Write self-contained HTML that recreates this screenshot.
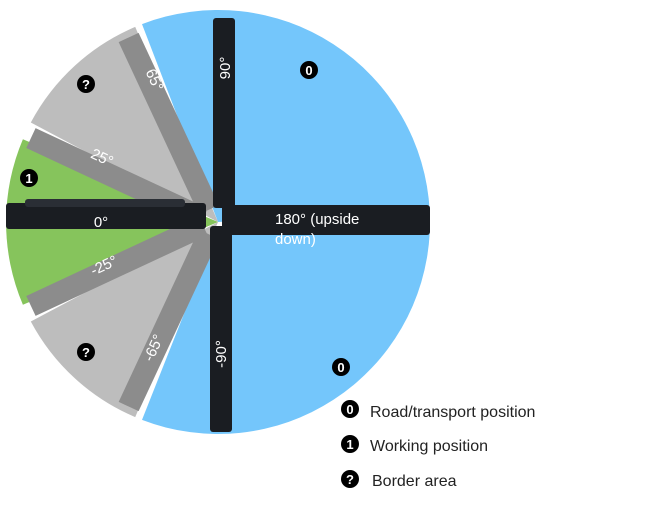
<!DOCTYPE html>
<html><head><meta charset="utf-8"><style>
html,body{margin:0;padding:0;background:#fff;}
svg{display:block;font-family:"Liberation Sans",sans-serif;}
</style></head><body>
<svg width="646" height="523" viewBox="0 0 646 523">
<path d="M218,222 L142,24.1 A212,212 0 0 1 429.7,210.9 Z" fill="#74c6fb"/>
<path d="M218,228 L429.7,233.1 A212,212 0 0 1 142,419.9 Z" fill="#74c6fb"/>
<path d="M218,222 L135.2,26.9 A212,212 0 0 0 30.8,122.5 Z" fill="#bdbdbd"/>
<path d="M218,222 L30.8,321.5 A212,212 0 0 0 135.2,417.1 Z" fill="#bdbdbd"/>
<path d="M218,222 L22.9,139.2 A212,212 0 0 0 22.9,304.8 Z" fill="#86c45c"/>
<g fill="#8c8c8c">
<rect x="-205" y="-14" width="190" height="22" transform="translate(218,222) rotate(-25)"/>
<rect x="-205" y="-14" width="190" height="22" transform="translate(218,222) rotate(-65)"/>
<rect x="-205" y="-8" width="190" height="22" transform="translate(218,222) rotate(25)"/>
<rect x="-205" y="-8" width="190" height="22" transform="translate(218,222) rotate(65)"/>
</g>
<rect x="6" y="203" width="200" height="26" rx="3" fill="#1a1d22"/>
<rect x="25" y="199" width="160" height="8" rx="3" fill="#2a2e35"/>
<rect x="213" y="18" width="22" height="190" rx="3" fill="#1a1d22"/>
<rect x="222" y="205" width="208" height="30" rx="3" fill="#1a1d22"/>
<rect x="210" y="226" width="22" height="206" rx="3" fill="#1a1d22"/>
<g fill="#fff" font-size="15">
<text x="101" y="227" text-anchor="middle">0°</text>
<text transform="translate(100,162) rotate(25)" text-anchor="middle">25°</text>
<text transform="translate(150,82) rotate(65)" text-anchor="middle">65°</text>
<text transform="translate(106,270) rotate(-25)" text-anchor="middle">-25°</text>
<text transform="translate(158,350) rotate(-65)" text-anchor="middle">-65°</text>
<text transform="translate(230,68) rotate(-90)" text-anchor="middle">90°</text>
<text transform="translate(226,354) rotate(-90)" text-anchor="middle">-90°</text>
<text x="275" y="224">180° (upside</text>
<text x="275" y="244">down)</text>
</g>
<g font-weight="bold" font-size="13" text-anchor="middle">
<circle cx="309" cy="70" r="9" fill="#000"/><text x="309" y="75" fill="#fff">0</text>
<circle cx="341" cy="367" r="9" fill="#000"/><text x="341" y="372" fill="#fff">0</text>
<circle cx="86" cy="84" r="9" fill="#000"/><text x="86" y="89" fill="#fff">?</text>
<circle cx="86" cy="352" r="9" fill="#000"/><text x="86" y="357" fill="#fff">?</text>
<circle cx="29" cy="178" r="9" fill="#000"/><text x="29" y="183" fill="#fff">1</text>
<circle cx="350" cy="409" r="9" fill="#000"/><text x="350" y="414" fill="#fff">0</text>
<circle cx="350" cy="444" r="9" fill="#000"/><text x="350" y="449" fill="#fff">1</text>
<circle cx="350" cy="479" r="9" fill="#000"/><text x="350" y="484" fill="#fff">?</text>
</g>
<g fill="#222" font-size="16">
<text x="370" y="417">Road/transport position</text>
<text x="370" y="451">Working position</text>
<text x="372" y="486">Border area</text>
</g>
</svg>
</body></html>
